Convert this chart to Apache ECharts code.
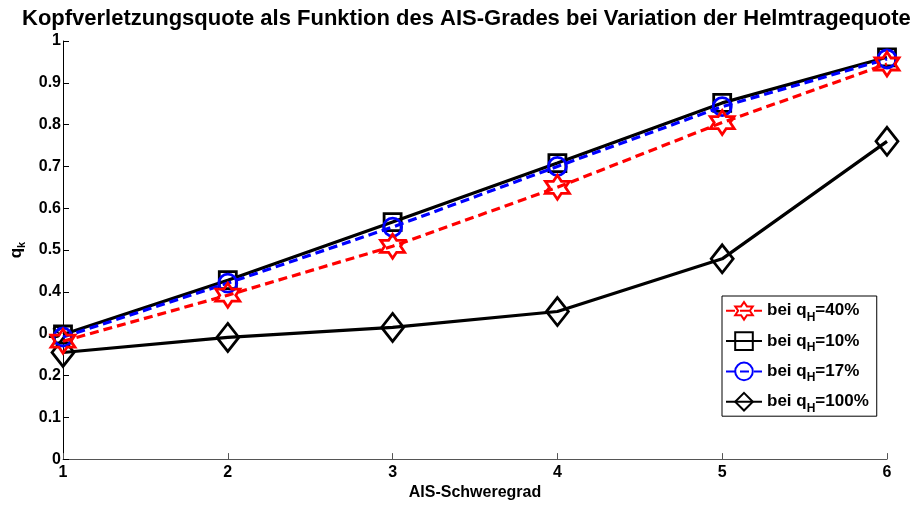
<!DOCTYPE html>
<html>
<head>
<meta charset="utf-8">
<script src="https://cdn.jsdelivr.net/npm/echarts@6/dist/echarts.min.js"></script>
<style>html,body{margin:0;padding:0;background:#fff}#c{width:916px;height:506px}</style>
</head>
<body>
<div id="c"></div>
<script>
var xValues = [1, 2, 3, 4, 5, 6];
var q40  = [0.282, 0.392, 0.509, 0.650, 0.805, 0.945];
var q10  = [0.298, 0.428, 0.567, 0.708, 0.852, 0.961];
var q17  = [0.292, 0.421, 0.555, 0.700, 0.843, 0.957];
var q100 = [0.255, 0.291, 0.315, 0.353, 0.479, 0.760];
var seriesNames = ['40%', '10%', '17%', '100%'];
var yTicks = ['0','0.1','0.2','0.3','0.4','0.5','0.6','0.7','0.8','0.9','1'];

function pairs(arr){ return xValues.map(function(x,i){ return [x, arr[i]]; }); }

var hexagram = 'path://M0,-10 L2.887,-5 L8.66,-5 L5.774,0 L8.66,5 L2.887,5 L0,10 L-2.887,5 L-8.66,5 L-5.774,0 L-8.66,-5 L-2.887,-5 Z';
var FONT = 'Liberation Sans, Arial, sans-serif';

var chart = echarts.init(document.getElementById('c'));
function mk(name, data, color, dashed, symbol, size, z){
  return {
    name: name, type: 'line', data: pairs(data), z: z,
    symbol: symbol, symbolSize: size, showAllSymbol: true,
    lineStyle: {color: color, width: 3.2, type: dashed ? [9, 5] : 'solid'},
    itemStyle: {color: 'rgba(0,0,0,0)', borderColor: color, borderWidth: 2.8},
    emphasis: {disabled: true},
    animation: false
  };
}
chart.setOption({
  animation: false,
  backgroundColor: '#fff',
  title: {
    text: 'Kopfverletzungsquote als Funktion des AIS-Grades bei Variation der Helmtragequote',
    left: 17, top: 3,
    textStyle: {fontFamily: FONT, fontSize: 22, fontWeight: 'bold', color: '#000'}
  },
  grid: {left: 60, right: 29, top: 41, bottom: 39, containLabel: false},
  legend: {
    orient: 'vertical', left: 722, top: 296,
    data: seriesNames,
    backgroundColor: '#fff', borderColor: '#000', borderWidth: 1,
    padding: [5, 8, 2, 3], itemGap: 8, itemWidth: 36, itemHeight: 22,
    formatter: function(n){ return '{t|bei q}{s|H}{t|=' + n + '}'; },
    textStyle: {
      fontFamily: FONT, fontWeight: 'bold', fontSize: 17, color: '#000',
      rich: {
        t: {fontFamily: FONT, fontWeight: 'bold', fontSize: 17, color: '#000'},
        s: {fontFamily: FONT, fontWeight: 'bold', fontSize: 12, color: '#000', padding: [13, 0, 0, 0]}
      }
    }
  },
  xAxis: {
    type: 'value', min: 1, max: 6, interval: 1,
    name: 'AIS-Schweregrad', nameLocation: 'middle', nameGap: 20,
    nameTextStyle: {fontFamily: FONT, fontWeight: 'bold', fontSize: 16, color: '#000'},
    axisLine: {show: true, lineStyle: {color: '#555', width: 1}},
    axisTick: {show: true, inside: true, length: 6, lineStyle: {color: '#555'}},
    axisLabel: {fontFamily: FONT, fontWeight: 'bold', fontSize: 16, color: '#000', margin: 5},
    splitLine: {show: false}
  },
  yAxis: {
    type: 'value', min: 0, max: 1, interval: 0.1,
    name: '{t|q}{s|k}', nameLocation: 'middle', nameGap: 36, nameRotate: 90,
    nameTextStyle: {
      fontFamily: FONT, fontWeight: 'bold', fontSize: 17, color: '#000',
      rich: {
        t: {fontFamily: FONT, fontWeight: 'bold', fontSize: 17, color: '#000'},
        s: {fontFamily: FONT, fontWeight: 'bold', fontSize: 11, color: '#000', padding: [10, 0, 0, 0]}
      }
    },
    axisLine: {show: true, lineStyle: {color: '#000', width: 1}},
    axisTick: {show: true, inside: true, length: 6, lineStyle: {color: '#000'}},
    axisLabel: {
      fontFamily: FONT, fontWeight: 'bold', fontSize: 16, color: '#000', margin: 2,
      formatter: function(v){ return yTicks[Math.round(v * 10)]; }
    },
    splitLine: {show: false}
  },
  series: [
    mk('100%', q100, '#000', false, 'diamond', [22, 28], 2),
    mk('10%', q10, '#000', false, 'rect', 17, 3),
    mk('17%', q17, '#0000ff', true, 'circle', 18, 4),
    mk('40%', q40, '#ff0000', true, hexagram, 24, 5)
  ]
});
</script>
</body>
</html>
